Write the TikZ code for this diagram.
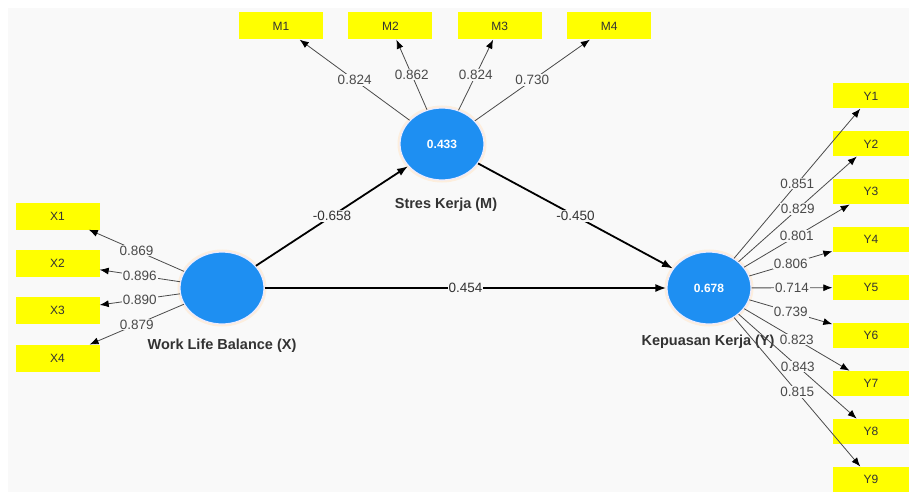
\documentclass[tikz,border=0pt]{standalone}
\usepackage{fontspec}
\setmainfont{Liberation Sans}
\usetikzlibrary{arrows.meta,positioning,shapes.geometric}
\definecolor{canvaswash}{HTML}{F9F9F9}
\definecolor{latentblue}{HTML}{1E8FF2}
\definecolor{itemyellow}{HTML}{FFFF00}
\definecolor{halowash}{HTML}{FDEEDD}
\definecolor{loadgrey}{HTML}{4A4A4A}
\definecolor{textgrey}{HTML}{333333}

\begin{document}
\begin{tikzpicture}[
  x=1pt, y=-1pt,
  every node/.style={font=\fontsize{14}{16}\selectfont, align=center},
  item/.style={fill=itemyellow, minimum width=84pt, minimum height=27pt, inner sep=0pt, text=textgrey, font=\fontsize{12}{14}\selectfont},
  latent/.style={ellipse, fill=latentblue, draw=blue!8, line width=1.2pt, preaction={draw=halowash, line width=5pt}, minimum width=84pt, minimum height=72pt, text=white, font=\bfseries\fontsize{12}{14}\selectfont},
  lvname/.style={font=\bfseries\fontsize{14.5}{16}\selectfont, text=textgrey},
  load/.style={-{Latex[length=9pt,width=7pt,color=black]}, draw=loadgrey, line width=0.8pt},
  struct/.style={-{Latex[length=11pt,width=8pt]}, draw=black, line width=1.8pt},
  coef/.style={fill=canvaswash, inner sep=1pt, text=loadgrey, font=\fontsize{13.5}{15}\selectfont}
]
\useasboundingbox (0,0) rectangle (909,492);
\fill[white] (0,0) rectangle (909,492);
\fill[canvaswash] (8,8) rectangle (909,492);

% latent variables
\node[latent] (wlb) at (222,288) {};
\node[latent] (sk) at (442,144) {0.433};
\node[latent] (kk) at (709,288) {0.678};
\node[lvname] (wlbname) at (222,346) {Work Life Balance (X)};
\node[lvname] (skname) at (446,205) {Stres Kerja (M)};
\node[lvname] (kkname) at (708,342) {Kepuasan Kerja (Y)};

% indicators
\node[item] (m1) at (281,26) {M1};
\node[item, right=25pt of m1] (m2) {M2};
\node[item, right=25pt of m2] (m3) {M3};
\node[item, right=25pt of m3] (m4) {M4};

\node[item] (x1) at (57.5,216) {X1};
\node[item, below=20pt of x1] (x2) {X2};
\node[item, below=20pt of x2] (x3) {X3};
\node[item, below=20pt of x3] (x4) {X4};

\node[item, minimum width=77pt, minimum height=25pt] (y1) at (871,96) {Y1};
\node[item, minimum width=77pt, minimum height=25pt, below=22.5pt of y1] (y2) {Y2};
\node[item, minimum width=77pt, minimum height=25pt, below=22.5pt of y2] (y3) {Y3};
\node[item, minimum width=77pt, minimum height=25pt, below=22.5pt of y3] (y4) {Y4};
\node[item, minimum width=77pt, minimum height=25pt, below=22.5pt of y4] (y5) {Y5};
\node[item, minimum width=77pt, minimum height=25pt, below=22.5pt of y5] (y6) {Y6};
\node[item, minimum width=77pt, minimum height=25pt, below=22.5pt of y6] (y7) {Y7};
\node[item, minimum width=77pt, minimum height=25pt, below=22.5pt of y7] (y8) {Y8};
\node[item, minimum width=77pt, minimum height=25pt, below=22.5pt of y8] (y9) {Y9};

% structural paths
\draw[struct] (wlb) -- node[coef, text=textgrey] {-0.658} (sk);
\draw[struct] (sk) -- node[coef, text=textgrey] {-0.450} (kk);
\draw[struct] (wlb) -- node[coef, text=textgrey] {0.454} (kk);

% outer loadings
\draw[load] (sk) -- node[coef] {0.824} (m1);
\draw[load] (sk) -- node[coef] {0.862} (m2);
\draw[load] (sk) -- node[coef] {0.824} (m3);
\draw[load] (sk) -- node[coef] {0.730} (m4);

\draw[load] (wlb) -- node[coef] {0.869} (x1);
\draw[load] (wlb) -- node[coef] {0.896} (x2);
\draw[load] (wlb) -- node[coef] {0.890} (x3);
\draw[load] (wlb) -- node[coef] {0.879} (x4);

\draw[load] (kk) -- node[coef] {0.851} (y1);
\draw[load] (kk) -- node[coef] {0.829} (y2);
\draw[load] (kk) -- node[coef] {0.801} (y3);
\draw[load] (kk) -- node[coef] {0.806} (y4);
\draw[load] (kk) -- node[coef] {0.714} (y5);
\draw[load] (kk) -- node[coef] {0.739} (y6);
\draw[load] (kk) -- node[coef] {0.823} (y7);
\draw[load] (kk) -- node[coef] {0.843} (y8);
\draw[load] (kk) -- node[coef] {0.815} (y9);
\end{tikzpicture}
\end{document}
